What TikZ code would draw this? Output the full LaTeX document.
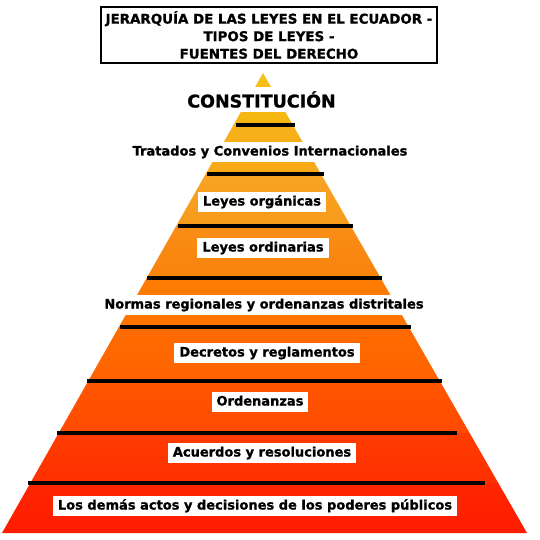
\documentclass[tikz,border=0pt]{standalone}
\usepackage{fontspec}
\newfontfamily\lab{DejaVu Sans}[BoldFeatures={FakeBold=1.2}]
\begin{document}
\begin{tikzpicture}[x=1pt,y=-1pt,
  lbl/.style={fill=white, font=\lab\bfseries\fontsize{13}{15}\selectfont,
    inner xsep=5pt, inner ysep=4pt, text height=9.5pt, text depth=2.5pt},
  divider/.style={line width=3.2pt, black},
  titlebox/.style={draw=black, line width=2pt, fill=white, align=center,
    minimum width=336pt, minimum height=56pt, inner sep=0pt,
    font=\lab\bfseries\fontsize{13.4}{17.5}\selectfont}]
\useasboundingbox (0,0) rectangle (539,540);
\fill[white] (0,0) rectangle (539,540);
\coordinate (apex) at (263,73);
\coordinate (bl) at (2,533);
\coordinate (br) at (527,533);
\begin{scope}
  \clip (apex) -- (br) -- (bl) -- cycle;
  \foreach \ya/\yb/\ca/\cb in {
      72/125/F6C21E/F5B50F,
      125/174/F7B21A/F7A818,
      174/226/F8A422/F89A1A,
      226/278/F98E16/F8820C,
      278/327/FF7D04/FF7200,
      327/381/FF6C00/FF6200,
      381/433/FF5600/FF4A00,
      433/483/FF3C00/FF3000,
      483/534/FF2600/FF1C00}{
    \definecolor{bandtop}{HTML}{\ca}
    \definecolor{bandbot}{HTML}{\cb}
    \shade[top color=bandtop, bottom color=bandbot] (0,\ya) rectangle (539,\yb);
  }
\end{scope}
% dividers
\draw[divider] (236,125) -- (295,125);
\draw[divider] (207,174) -- (324,174);
\draw[divider] (178,226) -- (353,226);
\draw[divider] (147,278) -- (382,278);
\draw[divider] (120,327) -- (411,327);
\draw[divider] (87,381) -- (442,381);
\draw[divider] (57,433) -- (457,433);
\draw[divider] (28,483) -- (485,483);
% title
\node[titlebox] (title) at (269,35) {JERARQUÍA DE LAS LEYES EN EL ECUADOR -\\TIPOS DE LEYES -\\FUENTES DEL DERECHO};
% labels
\node[fill=white, inner xsep=3pt, inner ysep=0pt, minimum height=25pt,
  font=\lab\bfseries\fontsize{17.5}{20}\selectfont] (const) at (261.5,99.5) {CONSTITUCIÓN};
\node[lbl] (trat) at (270,152) {Tratados y Convenios Internacionales};
\node[lbl] (org) at (262,202) {Leyes orgánicas};
\node[lbl] (ord) at (263,248) {Leyes ordinarias};
\node[lbl] (norm) at (264,305) {Normas regionales y ordenanzas distritales};
\node[lbl] (decr) at (267,353) {Decretos y reglamentos};
\node[lbl] (orden) at (260,402) {Ordenanzas};
\node[lbl] (acu) at (262,453) {Acuerdos y resoluciones};
\node[lbl] (demas) at (255,506) {Los demás actos y decisiones de los poderes públicos};
\end{tikzpicture}
\end{document}
